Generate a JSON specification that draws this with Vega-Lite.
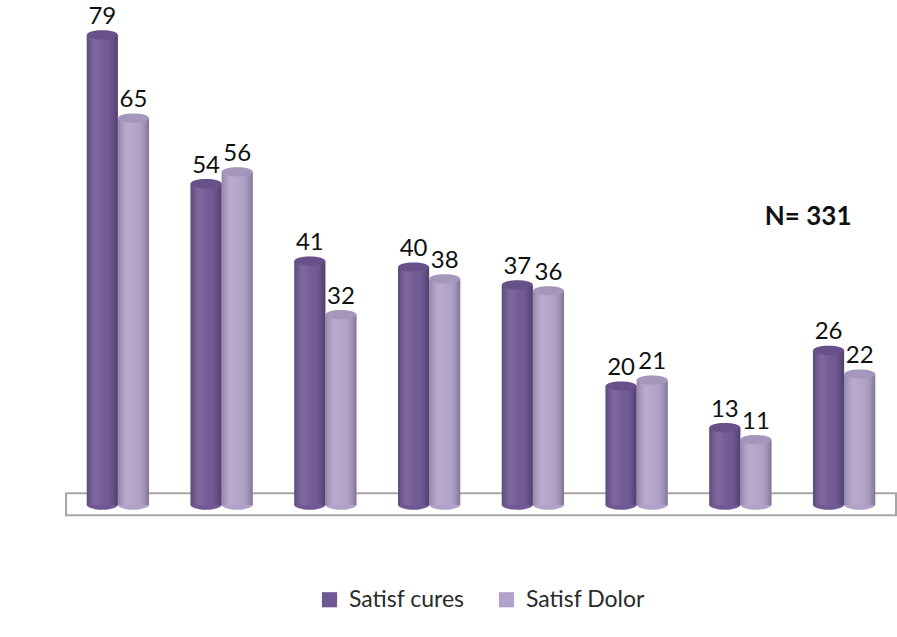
{
  "$schema": "https://vega.github.io/schema/vega-lite/v6.json",
  "width": 830,
  "height": 491,
  "autosize": {"type": "none"},
  "padding": {"left": 66, "top": 29, "right": 1, "bottom": 117},
  "background": "white",
  "config": {
    "view": {"stroke": null},
    "font": "Lato",
    "legend": {"layout": {"bottom": {"anchor": "middle"}}}
  },
  "data": {
    "values": [
      {"grupo": "1", "serie": "Satisf cures", "valor": 79},
      {"grupo": "1", "serie": "Satisf Dolor", "valor": 65},
      {"grupo": "2", "serie": "Satisf cures", "valor": 54},
      {"grupo": "2", "serie": "Satisf Dolor", "valor": 56},
      {"grupo": "3", "serie": "Satisf cures", "valor": 41},
      {"grupo": "3", "serie": "Satisf Dolor", "valor": 32},
      {"grupo": "4", "serie": "Satisf cures", "valor": 40},
      {"grupo": "4", "serie": "Satisf Dolor", "valor": 38},
      {"grupo": "5", "serie": "Satisf cures", "valor": 37},
      {"grupo": "5", "serie": "Satisf Dolor", "valor": 36},
      {"grupo": "6", "serie": "Satisf cures", "valor": 20},
      {"grupo": "6", "serie": "Satisf Dolor", "valor": 21},
      {"grupo": "7", "serie": "Satisf cures", "valor": 13},
      {"grupo": "7", "serie": "Satisf Dolor", "valor": 11},
      {"grupo": "8", "serie": "Satisf cures", "valor": 26},
      {"grupo": "8", "serie": "Satisf Dolor", "valor": 22}
    ]
  },
  "encoding": {
    "x": {
      "field": "grupo",
      "type": "nominal",
      "axis": null,
      "scale": {"paddingInner": 0.4, "paddingOuter": 0.2}
    },
    "xOffset": {"field": "serie", "type": "nominal", "sort": ["Satisf cures", "Satisf Dolor"]},
    "color": {
      "field": "serie",
      "type": "nominal",
      "sort": ["Satisf cures", "Satisf Dolor"],
      "scale": {"domain": ["Satisf cures", "Satisf Dolor"], "range": ["#705894", "#b2a2ca"]},
      "legend": {
        "orient": "bottom",
        "title": null,
        "direction": "horizontal",
        "offset": 68,
        "symbolType": "square",
        "symbolSize": 230,
        "symbolStrokeWidth": 0,
        "symbolOpacity": 1,
        "labelFontSize": 23,
        "labelColor": "#2a2a2a",
        "labelFont": "Lato",
        "labelOffset": 8,
        "columnPadding": 30
      }
    }
  },
  "layer": [
    {
      "data": {"values": [{"piso": "base"}]},
      "mark": {"type": "rect", "fill": "white", "stroke": "#a6a6a6", "strokeWidth": 2},
      "encoding": {
        "x": null,
        "xOffset": null,
        "color": null,
        "y": {"datum": -1.7, "type": "quantitative", "scale": {"domain": [-2.5, 80], "nice": false, "zero": false}, "axis": null},
        "y2": {"datum": 2}
      }
    },
    {
      "mark": {
        "type": "point",
        "shape": "M -1 0 A 1 0.3 0 1 0 1 0 A 1 0.3 0 1 0 -1 0 Z",
        "size": 961,
        "filled": true,
        "opacity": 1
      },
      "encoding": {
        "y": {"datum": 0, "type": "quantitative"}
      }
    },
    {
      "mark": {"type": "bar"},
      "encoding": {
        "y": {"field": "valor", "type": "quantitative", "stack": null},
        "y2": {"datum": 0}
      }
    },
    {
      "mark": {
        "type": "bar",
        "fill": {
          "gradient": "linear",
          "x1": 0, "x2": 1, "y1": 0, "y2": 0,
          "stops": [
            {"offset": 0, "color": "rgba(0,0,0,0.18)"},
            {"offset": 0.3, "color": "rgba(255,255,255,0.10)"},
            {"offset": 0.55, "color": "rgba(255,255,255,0.02)"},
            {"offset": 0.85, "color": "rgba(0,0,0,0.10)"},
            {"offset": 1, "color": "rgba(0,0,0,0.28)"}
          ]
        }
      },
      "encoding": {
        "color": null,
        "y": {"field": "valor", "type": "quantitative", "stack": null},
        "y2": {"datum": 0}
      }
    },
    {
      "mark": {
        "type": "point",
        "shape": "M -1 0 A 1 0.3 0 1 0 1 0 A 1 0.3 0 1 0 -1 0 Z",
        "size": 961,
        "filled": true,
        "opacity": 1
      },
      "encoding": {
        "y": {"field": "valor", "type": "quantitative"}
      }
    },
    {
      "mark": {
        "type": "point",
        "shape": "M -1 0 A 1 0.3 0 1 0 1 0 A 1 0.3 0 1 0 -1 0 Z",
        "size": 961,
        "filled": true,
        "color": "#000000",
        "opacity": 0.07
      },
      "encoding": {
        "color": null,
        "y": {"field": "valor", "type": "quantitative"}
      }
    },
    {
      "mark": {"type": "text", "baseline": "bottom", "dy": -6, "fontSize": 24, "color": "#111111"},
      "encoding": {
        "color": null,
        "y": {"field": "valor", "type": "quantitative"},
        "text": {"field": "valor", "type": "quantitative"}
      }
    },
    {
      "data": {"values": [{"nota": "N= 331"}]},
      "mark": {"type": "text", "fontSize": 26, "fontWeight": "bold", "color": "#111111", "dx": -36, "baseline": "middle"},
      "encoding": {
        "x": {"datum": "8"},
        "xOffset": null,
        "color": null,
        "y": {"datum": 48.4, "type": "quantitative"},
        "text": {"field": "nota", "type": "nominal"}
      }
    }
  ]
}
